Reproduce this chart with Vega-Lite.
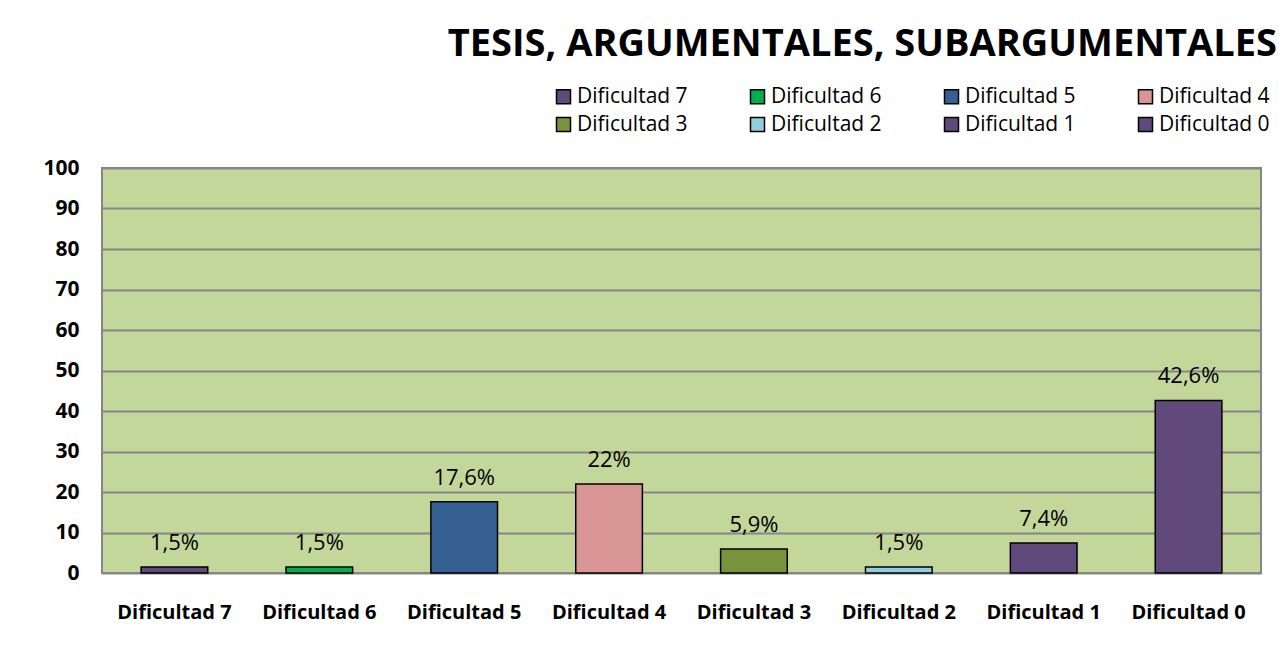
{
  "$schema": "https://vega.github.io/schema/vega-lite/v6.json",
  "width": 1159,
  "height": 405,
  "autosize": {"type": "none"},
  "padding": {"left": 102, "top": 168, "right": 18, "bottom": 76},
  "background": "white",
  "title": {
    "text": "TESIS, ARGUMENTALES, SUBARGUMENTALES",
    "anchor": "end",
    "frame": "group",
    "font": "Open Sans",
    "fontSize": 38,
    "fontWeight": "bold",
    "color": "black",
    "dx": 16,
    "offset": 22
  },
  "data": {
    "values": [
      {"cat": "Dificultad 7", "value": 1.5, "label": "1,5%"},
      {"cat": "Dificultad 6", "value": 1.5, "label": "1,5%"},
      {"cat": "Dificultad 5", "value": 17.6, "label": "17,6%"},
      {"cat": "Dificultad 4", "value": 22, "label": "22%"},
      {"cat": "Dificultad 3", "value": 5.9, "label": "5,9%"},
      {"cat": "Dificultad 2", "value": 1.5, "label": "1,5%"},
      {"cat": "Dificultad 1", "value": 7.4, "label": "7,4%"},
      {"cat": "Dificultad 0", "value": 42.6, "label": "42,6%"}
    ]
  },
  "encoding": {
    "x": {
      "field": "cat",
      "type": "nominal",
      "sort": null,
      "scale": {"paddingInner": 0.54, "paddingOuter": 0.27},
      "axis": {
        "title": null,
        "labelAngle": 0,
        "labelFont": "Open Sans",
        "labelFontSize": 20,
        "labelFontWeight": "bold",
        "labelColor": "black",
        "labelPadding": 29,
        "ticks": false,
        "domain": false,
        "grid": false
      }
    },
    "y": {
      "field": "value",
      "type": "quantitative",
      "scale": {"domain": [0, 100], "nice": false},
      "axis": {
        "title": null,
        "values": [0, 10, 20, 30, 40, 50, 60, 70, 80, 90, 100],
        "labelFont": "Open Sans",
        "labelFontSize": 21,
        "labelFontWeight": "bold",
        "labelColor": "black",
        "labelPadding": 23,
        "ticks": false,
        "domain": false,
        "grid": true,
        "gridColor": "#868686",
        "gridWidth": 2
      }
    }
  },
  "layer": [
    {
      "mark": {"type": "bar", "stroke": "black", "strokeWidth": 1.5},
      "encoding": {
        "color": {
          "field": "cat",
          "type": "nominal",
          "scale": {
            "domain": ["Dificultad 7", "Dificultad 6", "Dificultad 5", "Dificultad 4", "Dificultad 3", "Dificultad 2", "Dificultad 1", "Dificultad 0"],
            "range": ["#604A7B", "#00B050", "#376092", "#D99694", "#77933C", "#93CDDD", "#604A7B", "#604A7B"]
          },
          "legend": {
            "title": null,
            "orient": "none",
            "legendX": 451,
            "legendY": -82,
            "direction": "horizontal",
            "columns": 4,
            "symbolType": "square",
            "symbolSize": 196,
            "symbolStrokeColor": "black",
            "symbolStrokeWidth": 1.5,
            "labelFont": "Open Sans",
            "labelFontSize": 21,
            "labelColor": "black",
            "labelOffset": 3,
            "columnPadding": 59,
            "rowPadding": 6,
            "labelLimit": 200
          }
        }
      }
    },
    {
      "mark": {"type": "text", "baseline": "alphabetic", "dy": -17, "font": "Open Sans", "fontSize": 22, "color": "black"},
      "encoding": {"text": {"field": "label"}}
    }
  ],
  "config": {
    "view": {"fill": "#C4D79B", "stroke": "#868686", "strokeWidth": 2}
  }
}
